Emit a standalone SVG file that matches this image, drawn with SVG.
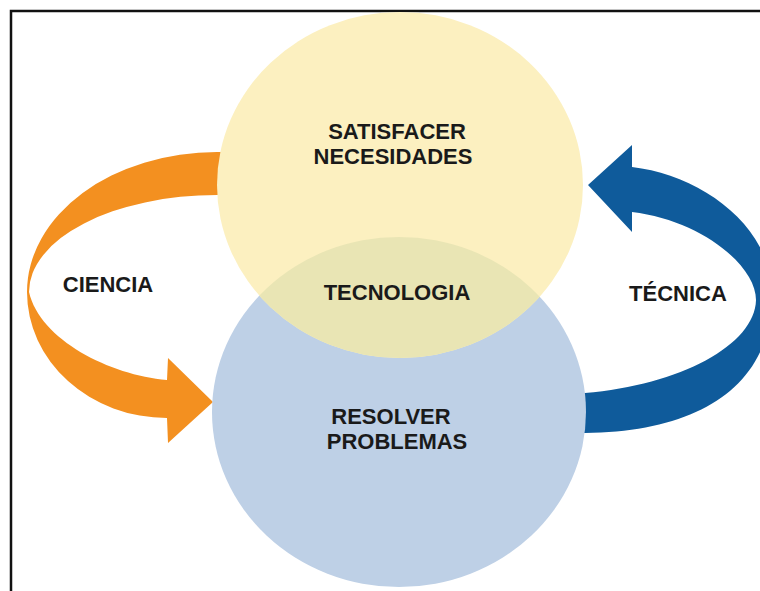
<svg xmlns="http://www.w3.org/2000/svg" width="760" height="591" viewBox="0 0 760 591">
  <style>
    .lbl { font-family: "Liberation Sans", Arial, sans-serif; font-weight: bold; font-size: 22px; fill: #1a1a1a; text-anchor: middle; }
  </style>
  <defs>
    <clipPath id="blueClip">
      <ellipse cx="399" cy="412" rx="187" ry="175"/>
    </clipPath>
  </defs>
  <rect x="0" y="0" width="760" height="591" fill="#ffffff"/>
  <path d="M 11 591 V 11 H 760" fill="none" stroke="#111111" stroke-width="2.5"/>

  <g id="connectors">
    <path id="arrow-ciencia" fill="#F39020" d="M 230 152 L 217 152 A 190 140 0 0 0 27 292 A 140 126 0 0 0 167 418 L 168 443 L 213 402 L 168 358 L 167 380 C 110 375 40 340 29 292 A 188 97 0 0 1 217 195 L 230 195 Z"/>
    <path id="arrow-tecnica" fill="#0F5B9B" d="M 632 167 C 700 175 772 225 772 295 C 772 385 700 432 585 433 L 570 433 L 570 393 L 585 393 C 680 385 755 345 756 300 C 756 265 700 220 632 212 L 632 232 L 588 185 L 632 145 Z"/>
  </g>

  <g id="node-resolver">
    <ellipse cx="399" cy="412" rx="187" ry="175" fill="#BED0E6"/>
  </g>
  <g id="node-satisfacer">
    <ellipse cx="400" cy="185" rx="183" ry="173" fill="#FCF0C0"/>
  </g>
  <g id="node-tecnologia">
    <ellipse cx="400" cy="185" rx="183" ry="173" fill="#E9E5B4" clip-path="url(#blueClip)"/>
  </g>

  <g id="labels">
    <text class="lbl" x="397" y="139">SATISFACER</text>
    <text class="lbl" x="393" y="164">NECESIDADES</text>
    <text class="lbl" x="397" y="300">TECNOLOGIA</text>
    <text class="lbl" x="391" y="424">RESOLVER</text>
    <text class="lbl" x="397" y="449">PROBLEMAS</text>
    <text class="lbl" x="108" y="292">CIENCIA</text>
    <text class="lbl" x="678" y="301">TÉCNICA</text>
  </g>
</svg>
